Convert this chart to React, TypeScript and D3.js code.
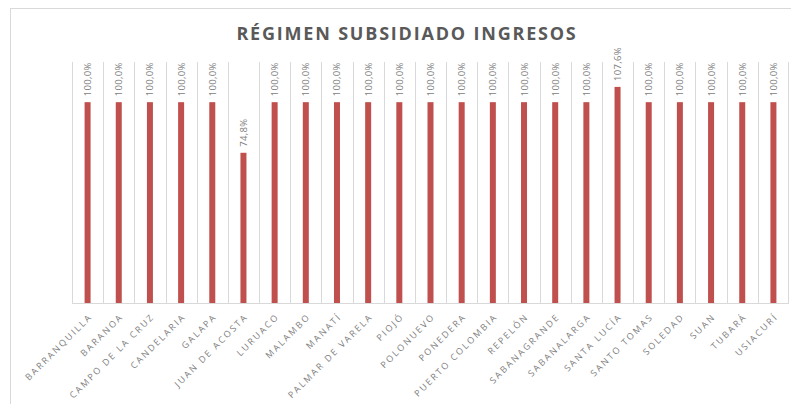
import { useEffect, useRef } from "react";
import * as d3 from "d3";

const municipios = [
  "BARRANQUILLA", "BARANOA", "CAMPO DE LA CRUZ", "CANDELARIA", "GALAPA",
  "JUAN DE ACOSTA", "LURUACO", "MALAMBO", "MANATÍ", "PALMAR DE VARELA",
  "PIOJÓ", "POLONUEVO", "PONEDERA", "PUERTO COLOMBIA", "REPELÓN",
  "SABANAGRANDE", "SABANALARGA", "SANTA LUCÍA", "SANTO TOMAS", "SOLEDAD",
  "SUAN", "TUBARÁ", "USIACURÍ",
];

const ingresos = [
  100, 100, 100, 100, 100, 74.8, 100, 100, 100, 100, 100, 100,
  100, 100, 100, 100, 100, 107.6, 100, 100, 100, 100, 100,
];

const titulo = "RÉGIMEN SUBSIDIADO INGRESOS";

const App = () => {
  const svgRef = useRef<SVGSVGElement>(null);

  useEffect(() => {
    const W = 791;
    const H = 404;
    const margin = { top: 62, right: 2, bottom: 101, left: 72 };
    const width = W - margin.left - margin.right;
    const height = H - margin.top - margin.bottom;
    const font = "'Open Sans', 'DejaVu Sans', sans-serif";
    const gris = "#595959";
    const grisClaro = "#808080";

    const svg = d3.select(svgRef.current);
    svg.selectAll("*").remove();

    // marco del gráfico
    svg.append("rect")
      .attr("x", 10.5).attr("y", 8.5)
      .attr("width", 820).attr("height", 420)
      .attr("fill", "#fff")
      .attr("stroke", "#d9d9d9");

    svg.append("text")
      .attr("x", 407).attr("y", 40)
      .attr("text-anchor", "middle")
      .style("font-family", font)
      .style("font-size", "18px")
      .style("font-weight", "bold")
      .style("letter-spacing", "1.8px")
      .style("fill", gris)
      .text(titulo);

    const g = svg.append("g")
      .attr("transform", `translate(${margin.left},${margin.top})`);

    const x = d3.scaleBand<string>()
      .domain(municipios)
      .range([0, width]);

    const y = d3.scaleLinear()
      .domain([0, 120])
      .range([height, 0]);

    // líneas de división verticales
    g.append("g")
      .selectAll("line")
      .data(municipios)
      .enter().append("line")
      .attr("x1", d => Math.round(x(d)!) + 0.5)
      .attr("x2", d => Math.round(x(d)!) + 0.5)
      .attr("y1", 0)
      .attr("y2", height)
      .attr("stroke", "#d9d9d9");

    g.append("line")
      .attr("x1", width - 0.5).attr("x2", width - 0.5)
      .attr("y1", 0).attr("y2", height)
      .attr("stroke", "#d9d9d9");

    const barW = 6;
    g.append("g")
      .selectAll("rect")
      .data(ingresos)
      .enter().append("rect")
      .attr("x", (d, i) => x(municipios[i])! + x.bandwidth() / 2 - barW / 2)
      .attr("y", d => y(d))
      .attr("width", barW)
      .attr("height", d => height - y(d))
      .attr("fill", "#c0504d");

    // etiquetas de valor
    g.append("g")
      .selectAll("text")
      .data(ingresos)
      .enter().append("text")
      .attr("transform", (d, i) =>
        `translate(${x(municipios[i])! + x.bandwidth() / 2 + 3.5},${y(d) - 6}) rotate(-90)`)
      .attr("text-anchor", "start")
      .style("font-family", font)
      .style("font-size", "9.5px")
      .style("letter-spacing", "0.3px")
      .style("fill", grisClaro)
      .text(d => d.toFixed(1).replace(".", ",") + "%");

    // eje
    g.append("line")
      .attr("x1", 0).attr("x2", width)
      .attr("y1", height + 0.5).attr("y2", height + 0.5)
      .attr("stroke", "#d9d9d9");

    g.append("g")
      .selectAll("text")
      .data(municipios)
      .enter().append("text")
      .attr("transform", d =>
        `translate(${x(d)! + x.bandwidth() / 2 + 3},${height + 12}) rotate(-45)`)
      .attr("text-anchor", "end")
      .attr("dy", "0.35em")
      .style("font-family", font)
      .style("font-size", "9px")
      .style("letter-spacing", "2px")
      .style("fill", grisClaro)
      .text(d => d);
  }, []);

  return (
    <svg
      ref={svgRef}
      width={791}
      height={404}
      style={{ position: "absolute", left: 0, top: 0, background: "#fff" }}
    ></svg>
  );
};

export default App;
